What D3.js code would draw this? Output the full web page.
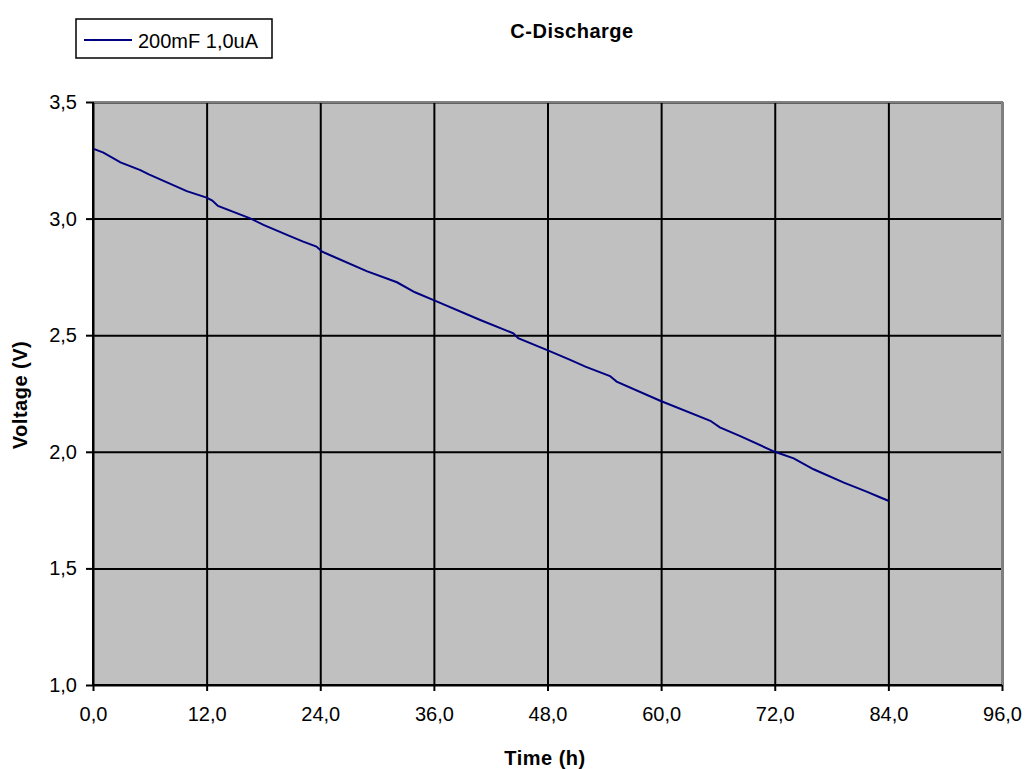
<!DOCTYPE html>
<html>
<head>
<meta charset="utf-8">
<script src="https://cdn.jsdelivr.net/npm/d3@7"></script>
<style>
  body { margin: 0; background: #fff; }
  text { font-family: "Liberation Sans", Arial, sans-serif; }
</style>
</head>
<body>
<script>
// discharge curve
var times = [0, 1.1, 2.9, 5.0, 5.9, 9.9, 12.0, 12.6, 13.2, 16.6, 18.0, 20.8, 22.2, 23.6, 24.2, 25.0,
             28.9, 32.1, 34.0, 36.1, 40.9, 44.4, 44.9, 48.1, 50.4, 52.0, 54.6, 55.3, 59.9, 65.2,
             66.2, 68.3, 72.0, 74.0, 76.1, 79.3, 81.7, 83.1, 84.0];
var volts = [3.30, 3.283, 3.241, 3.208, 3.190, 3.118, 3.090, 3.077, 3.054, 3.001, 2.973, 2.925, 2.901, 2.880, 2.858, 2.844,
             2.775, 2.727, 2.684, 2.648, 2.565, 2.508, 2.487, 2.434, 2.394, 2.365, 2.325, 2.301, 2.219, 2.133,
             2.105, 2.068, 2.000, 1.972, 1.925, 1.868, 1.829, 1.805, 1.790];
var xTicks = [0, 12, 24, 36, 48, 60, 72, 84, 96];
var yTicks = [1.0, 1.5, 2.0, 2.5, 3.0, 3.5];
var seriesName = "200mF 1,0uA";

var W = 1027, H = 769;
var margin = {top: 102, right: 25, bottom: 84, left: 93},
    width = W - margin.left - margin.right,
    height = H - margin.top - margin.bottom;

var data = times.map(function(t, i) { return {t: t, v: volts[i]}; });

var comma = function(d) { return d3.format(".1f")(d).replace(".", ","); };

var x = d3.scaleLinear().domain([0, 96]).range([0, width]);
var y = d3.scaleLinear().domain([1, 3.5]).range([height, 0]);

var svg = d3.select("body").append("svg")
    .attr("width", W)
    .attr("height", H);

var g = svg.append("g")
    .attr("transform", "translate(" + margin.left + "," + margin.top + ")");

// plot background
g.append("rect")
    .attr("width", width)
    .attr("height", height)
    .attr("fill", "#c0c0c0");

// grid
g.append("g")
    .call(d3.axisBottom(x).tickValues(xTicks).tickSize(height).tickFormat(""))
    .call(function(s) { s.select(".domain").remove(); })
    .selectAll("line").attr("stroke", "#000").attr("stroke-width", 2);
g.append("g")
    .call(d3.axisLeft(y).tickValues(yTicks).tickSize(-width).tickFormat(""))
    .call(function(s) { s.select(".domain").remove(); })
    .selectAll("line").attr("stroke", "#000").attr("stroke-width", 2);

// gray frame on top and right
g.append("path")
    .attr("d", "M0,0H" + width + "V" + height)
    .attr("fill", "none")
    .attr("stroke", "#808080")
    .attr("stroke-width", 2);

// the curve
g.append("path")
    .datum(data)
    .attr("fill", "none")
    .attr("stroke", "#000080")
    .attr("stroke-width", 2)
    .attr("d", d3.line().x(function(d) { return x(d.t); }).y(function(d) { return y(d.v); }));

// axes
var xAxis = g.append("g")
    .attr("transform", "translate(0," + height + ")")
    .call(d3.axisBottom(x).tickValues(xTicks).tickSize(6).tickPadding(16).tickFormat(comma));
var yAxis = g.append("g")
    .call(d3.axisLeft(y).tickValues(yTicks).tickSize(7).tickPadding(9).tickFormat(comma));

[xAxis, yAxis].forEach(function(a) {
  a.select(".domain").attr("stroke", "#000").attr("stroke-width", 2);
  a.selectAll(".tick line").attr("stroke", "#000").attr("stroke-width", 2);
  a.selectAll(".tick text")
      .attr("fill", "#000")
      .style("font-size", "20px")
      .style("font-family", "'Liberation Sans', Arial, sans-serif");
});
// make the axis paths plain lines
xAxis.select(".domain").attr("d", "M0,0H" + width);
yAxis.select(".domain").attr("d", "M0,0V" + height);

// titles
svg.append("text")
    .attr("x", 572).attr("y", 38)
    .attr("text-anchor", "middle")
    .style("font-size", "20px").style("font-weight", "bold")
    .style("letter-spacing", "0.5px")
    .text("C-Discharge");

svg.append("text")
    .attr("x", 545).attr("y", 765)
    .attr("text-anchor", "middle")
    .style("font-size", "20px").style("font-weight", "bold")
    .style("letter-spacing", "0.5px")
    .text("Time (h)");

svg.append("text")
    .attr("transform", "translate(27,395) rotate(-90)")
    .attr("text-anchor", "middle")
    .style("font-size", "20px").style("font-weight", "bold")
    .style("letter-spacing", "0.5px")
    .text("Voltage (V)");

// legend
var legend = svg.append("g");
legend.append("rect")
    .attr("x", 76).attr("y", 19)
    .attr("width", 196).attr("height", 39)
    .attr("fill", "#fff")
    .attr("stroke", "#000")
    .attr("stroke-width", 1.5);
legend.append("line")
    .attr("x1", 84).attr("x2", 132)
    .attr("y1", 40).attr("y2", 40)
    .attr("stroke", "#000080")
    .attr("stroke-width", 2);
legend.append("text")
    .attr("x", 138).attr("y", 48)
    .style("font-size", "20px")
    .text(seriesName);
</script>
</body>
</html>
